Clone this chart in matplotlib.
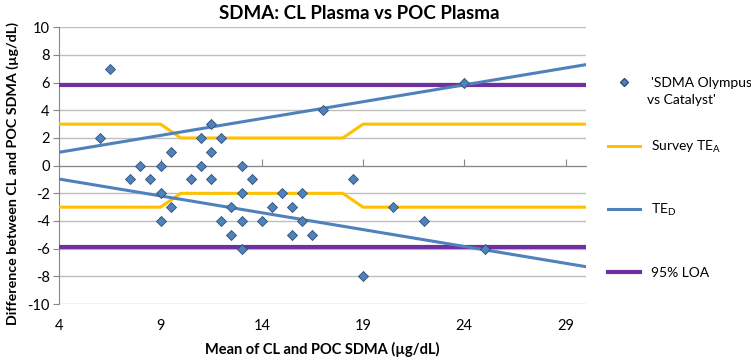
import matplotlib
matplotlib.use("Agg")
import matplotlib.pyplot as plt
from matplotlib.lines import Line2D

# Bland-Altman points
meanSdma = [6.5, 6, 24, 17, 11.5, 11, 12, 9.5, 11.5, 8, 9, 11, 13,
            7.5, 8.5, 10.5, 11.5, 13.5, 18.5,
            9, 13, 15, 16,
            9.5, 12.5, 14.5, 15.5, 20.5,
            9, 12, 13, 14, 16, 22,
            12.5, 15.5, 16.5,
            13, 25, 19]
diffSdma = [7, 2, 6, 4, 3, 2, 2, 1, 1, 0, 0, 0, 0,
            -1, -1, -1, -1, -1, -1,
            -2, -2, -2, -2,
            -3, -3, -3, -3, -3,
            -4, -4, -4, -4, -4, -4,
            -5, -5, -5,
            -6, -6, -8]

# Survey TEa step line
teaX = [4, 9, 10, 18, 19, 30]
teaUpper = [3, 3, 2, 2, 3, 3]
teaLower = [-3, -3, -2, -2, -3, -3]

# TEd lines
tedX = [4, 30]
tedUpper = [0.97, 7.3]
tedLower = [-0.97, -7.3]

# 95% limits of agreement
loaX = [4, 30]
loaUpper = [5.85, 5.85]
loaLower = [-5.85, -5.85]

xTicks = [4, 9, 14, 19, 24, 29]
yTicks = list(range(-10, 11, 2))

plt.rcParams['font.family'] = ['Lato', 'DejaVu Sans']
plt.rcParams['axes.unicode_minus'] = False

blue = "#4F81BD"
yellow = "#FFC000"
purple = "#7030A0"
gridGrey = "#BFBFBF"
axisGrey = "#868686"
edgeBlue = "#2F4F73"

fig = plt.figure(figsize=(7.51, 3.63), dpi=100)
ax = fig.add_axes([0.079, 0.1625, 0.701, 0.7623])

ax.plot(loaX, loaUpper, color=purple, lw=3.0, zorder=3)
ax.plot(loaX, loaLower, color=purple, lw=3.0, zorder=3)
ax.plot(teaX, teaUpper, color=yellow, lw=2.2, zorder=3)
ax.plot(teaX, teaLower, color=yellow, lw=2.2, zorder=3)
ax.plot(tedX, tedUpper, color=blue, lw=2.2, zorder=4)
ax.plot(tedX, tedLower, color=blue, lw=2.2, zorder=4)
ax.scatter(meanSdma, diffSdma, marker="D", s=26, color=blue,
           edgecolors=edgeBlue, linewidths=0.6, zorder=5)

ax.set_xlim(4, 30)
ax.set_ylim(-10, 10)
ax.set_yticks(yTicks)
ax.set_xticks(xTicks)
ax.yaxis.grid(True, color=gridGrey, lw=1.0)
ax.set_axisbelow(True)

for side in ["top", "right"]:
    ax.spines[side].set_visible(False)
ax.spines["left"].set_color(axisGrey)
ax.spines["bottom"].set_position(("data", 0))
ax.spines["bottom"].set_color(axisGrey)
ax.tick_params(axis="x", direction="in", length=5, color=axisGrey, labelbottom=False)
ax.tick_params(axis="y", direction="out", length=4, color=axisGrey, labelsize=10.5, pad=3)

secX = ax.secondary_xaxis(location=0.0)
secX.set_xticks(xTicks)
secX.tick_params(length=0, labelsize=10.5, pad=11)
secX.spines["bottom"].set_visible(False)
secX.set_xlabel("Mean of CL and POC SDMA (µg/dL)", fontsize=10.5, fontweight="bold", labelpad=6)

ax.set_ylabel("Difference between CL and POC SDMA (µg/dL)", fontsize=10.3, fontweight="bold")
ax.yaxis.set_label_coords(-0.076, 0.473)
fig.text(0.478, 0.962, "SDMA: CL Plasma vs POC Plasma", fontsize=13.5, fontweight="bold",
         ha="center", va="center")

# legend entries placed one by one like the Excel legend
legendEntries = [
    (Line2D([], [], marker="D", ls="none", color=blue, markeredgecolor=edgeBlue, markersize=4.5),
     "'SDMA Olympus", 83),
    (Line2D([], [], color=yellow, lw=2.2), "Survey TE$_\\mathregular{A}$", 147),
    (Line2D([], [], color=blue, lw=2.2), "TE$_\\mathregular{D}$", 210),
    (Line2D([], [], color=purple, lw=3.0), "95% LOA", 273),
]
for handle, label, yPix in legendEntries:
    fig.legend([handle], [label], loc="center left",
               bbox_to_anchor=(608 / 751, 1 - yPix / 363),
               frameon=False, fontsize=10, handlelength=2.3, handletextpad=0.8,
               borderaxespad=0, borderpad=0)
fig.text(647 / 751, 1 - 100 / 363, "vs Catalyst'", fontsize=10, va="center", ha="left")

fig.savefig("out.png", dpi=100)
